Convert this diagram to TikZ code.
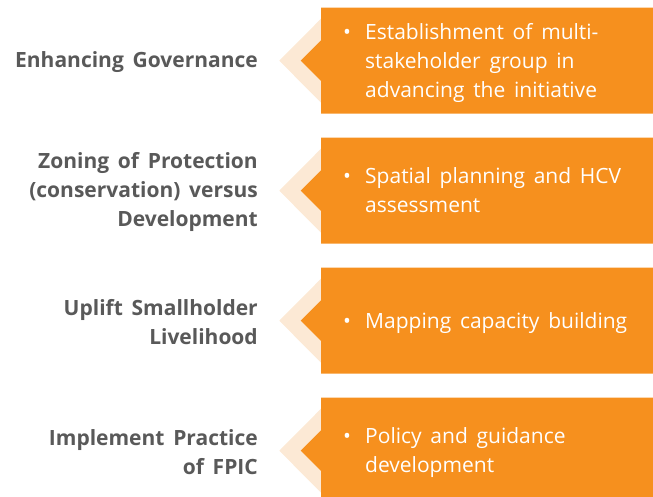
\documentclass[tikz,border=0pt]{standalone}
\usepackage{fontspec}
\setmainfont{Open Sans}[WordSpace=1.6]
\definecolor{boxorange}{HTML}{F6901E}
\definecolor{chevronpeach}{HTML}{FCE9D5}
\definecolor{labelgray}{HTML}{595959}
\tikzset{
  rowlabel/.style={anchor=east, align=right, text=labelgray,
    font=\fontsize{21}{29}\selectfont\bfseries, inner sep=0pt},
  boxtext/.style={anchor=west, text=white,
    font=\fontsize{21}{29}\selectfont, inner sep=0pt},
  chevron/.style={fill=chevronpeach, draw=none},
  notchbox/.style={fill=boxorange, draw=none}
}
% one row: peach chevron behind an orange box with a left notch
\newcommand{\rowshape}[1]{%
  \fill[chevron] (279.3,#1) -- (321,#1-42) -- (321,#1+42) -- cycle;
  \fill[notchbox] (321,#1-53) -- (653,#1-53) -- (653,#1+53) -- (321,#1+53)
    -- (321,#1+20.3) -- (300.7,#1) -- (321,#1-20.3) -- cycle;
}
\newcommand{\bulletlines}[1]{%
  \setlength{\tabcolsep}{0pt}\renewcommand{\arraystretch}{1}%
  \begin{tabular}{@{}p{22pt}@{}l@{}}#1\end{tabular}}
\begin{document}
\begin{tikzpicture}[x=1pt,y=-1pt]
\useasboundingbox (0,0) rectangle (653,497);
\clip (0,0) rectangle (653,497);
\rowshape{60.7}
\rowshape{190.7}
\rowshape{320.7}
\rowshape{450.7}

\node[rowlabel] (l1) at (258,62) {Enhancing Governance};
\node[rowlabel] (l2) at (258,192) {Zoning of Protection\\(conservation) versus\\Development};
\node[rowlabel] (l3) at (258,322) {Uplift Smallholder\\Livelihood};
\node[rowlabel] (l4) at (258,452) {Implement Practice\\of FPIC};

\node[boxtext] (b1) at (343,62.5) {\bulletlines{\textbullet & Establishment of multi-\\ & stakeholder group in\\ & advancing the initiative}};
\node[boxtext] (b2) at (343,192.5) {\bulletlines{\textbullet & Spatial planning and HCV\\ & assessment}};
\node[boxtext] (b3) at (343,322.5) {\bulletlines{\textbullet & Mapping capacity building}};
\node[boxtext] (b4) at (343,452.5) {\bulletlines{\textbullet & Policy and guidance\\ & development}};
\end{tikzpicture}
\end{document}
